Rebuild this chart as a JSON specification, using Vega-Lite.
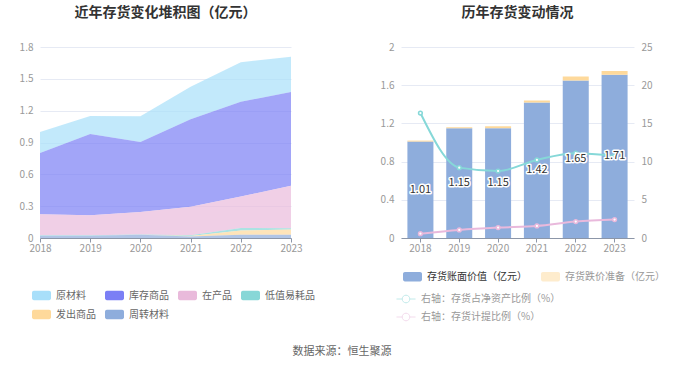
{
  "$schema": "https://vega.github.io/schema/vega-lite/v6.json",
  "padding": {"left": 19, "top": 6, "right": 5, "bottom": 5},
  "background": "white",
  "config": {
    "font": "Noto Sans CJK SC",
    "view": {"stroke": null},
    "axis": {"labelFontSize": 10, "labelColor": "#999999", "gridColor": "#e6eaf4", "domainColor": "#8c96a8", "tickColor": "#8c96a8", "title": null},
    "axisY": {"domain": false, "ticks": false, "labelPadding": 7, "grid": true},
    "axisX": {"grid": false, "tickSize": 4, "labelPadding": 1, "labelAngle": 0},
    "title": {"fontSize": 14, "fontWeight": "bold", "color": "#333333", "anchor": "middle", "offset": 22},
    "legend": {"labelFontSize": 10, "labelColor": "#666666", "title": null, "symbolStrokeWidth": 0, "labelOffset": 5, "rowPadding": 4}
  },
  "title": {"text": "数据来源：恒生聚源", "orient": "bottom", "anchor": "middle", "fontSize": 11, "fontWeight": "normal", "color": "#666666", "offset": 23},
  "spacing": 65,
  "resolve": {"scale": {"color": "independent", "fill": "independent", "stroke": "independent"}, "legend": {"color": "independent", "fill": "independent", "stroke": "independent"}},
  "hconcat": [
    {
      "width": 251,
      "height": 191,
      "title": {"text": "近年存货变化堆积图（亿元）"},
      "data": {"values": [
        {"year": "2018", "type": "原材料", "value": 0.2},
        {"year": "2019", "type": "原材料", "value": 0.17},
        {"year": "2020", "type": "原材料", "value": 0.244},
        {"year": "2021", "type": "原材料", "value": 0.307},
        {"year": "2022", "type": "原材料", "value": 0.374},
        {"year": "2023", "type": "原材料", "value": 0.333},
        {"year": "2018", "type": "库存商品", "value": 0.575},
        {"year": "2019", "type": "库存商品", "value": 0.765},
        {"year": "2020", "type": "库存商品", "value": 0.66},
        {"year": "2021", "type": "库存商品", "value": 0.824},
        {"year": "2022", "type": "库存商品", "value": 0.893},
        {"year": "2023", "type": "库存商品", "value": 0.884},
        {"year": "2018", "type": "在产品", "value": 0.2},
        {"year": "2019", "type": "在产品", "value": 0.19},
        {"year": "2020", "type": "在产品", "value": 0.21},
        {"year": "2021", "type": "在产品", "value": 0.27},
        {"year": "2022", "type": "在产品", "value": 0.295},
        {"year": "2023", "type": "在产品", "value": 0.4},
        {"year": "2018", "type": "低值易耗品", "value": 0.003},
        {"year": "2019", "type": "低值易耗品", "value": 0.003},
        {"year": "2020", "type": "低值易耗品", "value": 0.004},
        {"year": "2021", "type": "低值易耗品", "value": 0.005},
        {"year": "2022", "type": "低值易耗品", "value": 0.025},
        {"year": "2023", "type": "低值易耗品", "value": 0.012},
        {"year": "2018", "type": "发出商品", "value": 0},
        {"year": "2019", "type": "发出商品", "value": 0},
        {"year": "2020", "type": "发出商品", "value": 0},
        {"year": "2021", "type": "发出商品", "value": 0.005},
        {"year": "2022", "type": "发出商品", "value": 0.04},
        {"year": "2023", "type": "发出商品", "value": 0.05},
        {"year": "2018", "type": "周转材料", "value": 0.022},
        {"year": "2019", "type": "周转材料", "value": 0.022},
        {"year": "2020", "type": "周转材料", "value": 0.03},
        {"year": "2021", "type": "周转材料", "value": 0.015},
        {"year": "2022", "type": "周转材料", "value": 0.03},
        {"year": "2023", "type": "周转材料", "value": 0.03}
      ]},
      "transform": [
        {"calculate": "indexof(['周转材料', '发出商品', '低值易耗品', '在产品', '库存商品', '原材料'], datum.type)", "as": "stackOrder"}
      ],
      "mark": {"type": "area", "opacity": 0.7},
      "encoding": {
        "x": {"field": "year", "type": "ordinal", "scale": {"type": "point", "padding": 0}},
        "y": {"field": "value", "type": "quantitative", "stack": "zero", "scale": {"domain": [0, 1.8], "nice": false}, "axis": {"values": [0, 0.3, 0.6, 0.9, 1.2, 1.5, 1.8], "labelExpr": "datum.value == 0 ? '0' : format(datum.value, '.1f')"}},
        "color": {
          "field": "type", "type": "nominal",
          "scale": {"domain": ["原材料", "库存商品", "在产品", "低值易耗品", "发出商品", "周转材料"], "range": ["#a8dffa", "#7b7ff5", "#e9badb", "#87d7d7", "#fed99b", "#8eaddc"]},
          "legend": {"orient": "none", "legendX": -8, "legendY": 239, "direction": "horizontal", "columns": 4, "gridAlign": "none", "columnPadding": 9,
            "symbolType": "M-0.8,-0.5H0.8A0.2,0.2,0,0,1,1,-0.3V0.3A0.2,0.2,0,0,1,0.8,0.5H-0.8A0.2,0.2,0,0,1,-1,0.3V-0.3A0.2,0.2,0,0,1,-0.8,-0.5Z",
            "symbolSize": 361, "symbolOpacity": 1}
        },
        "order": {"field": "stackOrder", "type": "quantitative", "sort": "ascending"}
      }
    },
    {
      "width": 233,
      "height": 191,
      "title": {"text": "历年存货变动情况"},
      "resolve": {"scale": {"y": "independent"}},
      "layer": [
        {
          "data": {"values": [
            {"year": "2018", "series": "存货账面价值（亿元）", "value": 1.01},
            {"year": "2019", "series": "存货账面价值（亿元）", "value": 1.15},
            {"year": "2020", "series": "存货账面价值（亿元）", "value": 1.15},
            {"year": "2021", "series": "存货账面价值（亿元）", "value": 1.42},
            {"year": "2022", "series": "存货账面价值（亿元）", "value": 1.65},
            {"year": "2023", "series": "存货账面价值（亿元）", "value": 1.71},
            {"year": "2018", "series": "存货跌价准备（亿元）", "value": 0.01},
            {"year": "2019", "series": "存货跌价准备（亿元）", "value": 0.01},
            {"year": "2020", "series": "存货跌价准备（亿元）", "value": 0.02},
            {"year": "2021", "series": "存货跌价准备（亿元）", "value": 0.02},
            {"year": "2022", "series": "存货跌价准备（亿元）", "value": 0.04},
            {"year": "2023", "series": "存货跌价准备（亿元）", "value": 0.04}
          ]},
          "mark": {"type": "bar"},
          "encoding": {
            "x": {"field": "year", "type": "ordinal", "scale": {"paddingInner": 0.33, "paddingOuter": 0.165}},
            "y": {"field": "value", "type": "quantitative", "stack": "zero", "scale": {"domain": [0, 2], "nice": false}, "axis": {"values": [0, 0.4, 0.8, 1.2, 1.6, 2], "labelExpr": "datum.value == 0 ? '0' : format(datum.value, '~g')"}},
            "fill": {"field": "series", "type": "nominal",
              "scale": {"domain": ["存货账面价值（亿元）", "存货跌价准备（亿元）"], "range": ["#8eaddc", "#fed99b"]},
              "legend": {"orient": "none", "legendX": 2, "legendY": 220, "direction": "horizontal", "columnPadding": 14,
                "symbolType": "M-0.8,-0.5H0.8A0.2,0.2,0,0,1,1,-0.3V0.3A0.2,0.2,0,0,1,0.8,0.5H-0.8A0.2,0.2,0,0,1,-1,0.3V-0.3A0.2,0.2,0,0,1,-0.8,-0.5Z",
                "symbolSize": 361,
                "labelColor": {"expr": "datum.label == '存货账面价值（亿元）' ? '#333333' : '#999999'"},
                "symbolOpacity": {"expr": "datum.label == '存货账面价值（亿元）' ? 1 : 0.5"}}},
            "order": {"field": "series", "sort": "ascending"}
          }
        },
        {
          "data": {"values": [
            {"year": "2018", "series": "右轴：存货占净资产比例（%）", "value": 16.36},
            {"year": "2019", "series": "右轴：存货占净资产比例（%）", "value": 9.21},
            {"year": "2020", "series": "右轴：存货占净资产比例（%）", "value": 8.77},
            {"year": "2021", "series": "右轴：存货占净资产比例（%）", "value": 10.22},
            {"year": "2022", "series": "右轴：存货占净资产比例（%）", "value": 11.1},
            {"year": "2023", "series": "右轴：存货占净资产比例（%）", "value": 10.75},
            {"year": "2018", "series": "右轴：存货计提比例（%）", "value": 0.57},
            {"year": "2019", "series": "右轴：存货计提比例（%）", "value": 1.05},
            {"year": "2020", "series": "右轴：存货计提比例（%）", "value": 1.36},
            {"year": "2021", "series": "右轴：存货计提比例（%）", "value": 1.58},
            {"year": "2022", "series": "右轴：存货计提比例（%）", "value": 2.15},
            {"year": "2023", "series": "右轴：存货计提比例（%）", "value": 2.41}
          ]},
          "mark": {"type": "line", "interpolate": "monotone", "strokeWidth": 2, "point": {"filled": false, "fill": "white", "size": 14, "strokeWidth": 1.5}},
          "encoding": {
            "x": {"field": "year", "type": "ordinal"},
            "y": {"field": "value", "type": "quantitative", "scale": {"domain": [0, 25], "nice": false}, "axis": {"orient": "right", "values": [0, 5, 10, 15, 20, 25], "grid": false}},
            "stroke": {"field": "series", "type": "nominal",
              "scale": {"domain": ["右轴：存货占净资产比例（%）", "右轴：存货计提比例（%）"], "range": ["#86d8d8", "#e9b9dc"]},
              "legend": {"orient": "none", "legendX": -5, "legendY": 242, "direction": "vertical",
                "symbolType": "M-1,0H-0.4M0.4,0H1M0.4,0A0.4,0.4,0,1,1,-0.4,0A0.4,0.4,0,1,1,0.4,0",
                "symbolSize": 361, "symbolStrokeWidth": 1, "symbolFillColor": "white", "symbolOpacity": 0.5, "labelColor": "#999999", "rowPadding": 2}}
          }
        },
        {
          "data": {"values": [
            {"year": "2018", "value": 1.01},
            {"year": "2019", "value": 1.15},
            {"year": "2020", "value": 1.15},
            {"year": "2021", "value": 1.42},
            {"year": "2022", "value": 1.65},
            {"year": "2023", "value": 1.71}
          ]},
          "mark": {"type": "text", "fontSize": 11, "stroke": "white", "strokeWidth": 3, "strokeJoin": "round", "fill": "white", "baseline": "middle"},
          "encoding": {
            "x": {"field": "year", "type": "ordinal"},
            "y": {"field": "value", "type": "quantitative", "scale": {"domain": [0, 4], "nice": false}, "axis": null},
            "text": {"field": "value", "type": "quantitative", "format": ".2f"}
          }
        },
        {
          "data": {"values": [
            {"year": "2018", "value": 1.01},
            {"year": "2019", "value": 1.15},
            {"year": "2020", "value": 1.15},
            {"year": "2021", "value": 1.42},
            {"year": "2022", "value": 1.65},
            {"year": "2023", "value": 1.71}
          ]},
          "mark": {"type": "text", "fontSize": 11, "fill": "#333333", "baseline": "middle"},
          "encoding": {
            "x": {"field": "year", "type": "ordinal"},
            "y": {"field": "value", "type": "quantitative", "scale": {"domain": [0, 4], "nice": false}, "axis": null},
            "text": {"field": "value", "type": "quantitative", "format": ".2f"}
          }
        }
      ]
    }
  ]
}
